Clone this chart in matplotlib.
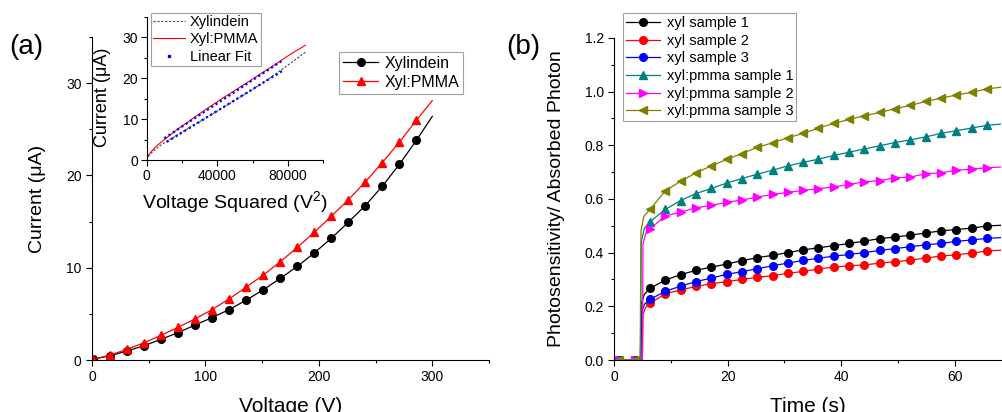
import numpy as np
import matplotlib.pyplot as plt
from matplotlib.ticker import MultipleLocator, FormatStrFormatter

plt.rcParams['font.family'] = ['Liberation Sans', 'DejaVu Sans']
plt.rcParams['mathtext.default'] = 'regular'
plt.rcParams['axes.linewidth'] = 0.8

# ---- panel (a): I-V curves
voltage = [1, 16, 31, 46, 61, 76, 91, 106, 121, 136, 151, 166, 181, 196,
           211, 226, 241, 256, 271, 286, 300]
cur_xyl = [0.07, 0.47, 0.98, 1.56, 2.25, 2.97, 3.8, 4.6, 5.47, 6.49, 7.61,
           8.84, 10.14, 11.6, 13.19, 14.93, 16.74, 18.84, 21.2, 23.8, 26.4]
cur_pmma = [0.07, 0.54, 1.16, 1.88, 2.68, 3.55, 4.46, 5.47, 6.63, 7.9, 9.2,
            10.65, 12.2, 13.84, 15.58, 17.36, 19.3, 21.4, 23.6, 25.98, 28.1]

# inset linear fits, end points (V^2, I)
fit_xyl_x = [11400, 76800]
fit_xyl_y = [4.5, 21.8]
fit_pmma_x = [10000, 77400]
fit_pmma_y = [5.4, 24.5]

# ---- panel (b): photosensitivity vs time
t_mark = [0.9, 3.6, 6.3, 9.0, 11.7, 14.4, 17.1, 19.8, 22.5, 25.2, 27.9, 30.6,
          33.3, 36.0, 38.7, 41.4, 44.1, 46.8, 49.5, 52.2, 54.9, 57.6, 60.3,
          63.0, 65.7]
t_end = 68.2

xyl1 = [0, 0, 0.267, 0.298, 0.318, 0.334, 0.346, 0.357, 0.370, 0.381, 0.390,
        0.400, 0.410, 0.418, 0.426, 0.434, 0.443, 0.452, 0.458, 0.465, 0.473,
        0.481, 0.486, 0.491, 0.499]
xyl2 = [0, 0, 0.211, 0.247, 0.261, 0.274, 0.284, 0.292, 0.300, 0.308, 0.314,
        0.323, 0.330, 0.339, 0.346, 0.351, 0.354, 0.361, 0.366, 0.372, 0.380,
        0.387, 0.392, 0.398, 0.406]
xyl3 = [0, 0, 0.226, 0.256, 0.275, 0.292, 0.305, 0.319, 0.329, 0.340, 0.351,
        0.361, 0.371, 0.379, 0.387, 0.393, 0.400, 0.408, 0.415, 0.422, 0.429,
        0.434, 0.442, 0.447, 0.453]
pmma1 = [0, 0, 0.515, 0.561, 0.594, 0.620, 0.639, 0.659, 0.676, 0.692, 0.707,
         0.723, 0.736, 0.748, 0.762, 0.774, 0.786, 0.798, 0.810, 0.820, 0.831,
         0.844, 0.854, 0.864, 0.874]
pmma2 = [0, 0, 0.489, 0.536, 0.551, 0.567, 0.576, 0.587, 0.596, 0.607, 0.617,
         0.624, 0.632, 0.638, 0.645, 0.654, 0.664, 0.668, 0.679, 0.681, 0.694,
         0.697, 0.707, 0.711, 0.716]
pmma3 = [0, 0, 0.561, 0.630, 0.666, 0.697, 0.723, 0.747, 0.769, 0.792, 0.809,
         0.828, 0.844, 0.864, 0.881, 0.896, 0.910, 0.922, 0.936, 0.948, 0.963,
         0.975, 0.987, 0.997, 1.010]
# light-on step: (time, value) points between the flat part and 1st marker
rise_xyl1 = ([4.6, 4.75, 5.3], [0, 0.21, 0.245])
rise_xyl2 = ([4.95, 5.05, 5.5], [0, 0.17, 0.195])
rise_xyl3 = ([4.7, 4.8, 5.4], [0, 0.18, 0.21])
rise_pmma1 = ([4.6, 4.75, 5.3], [0, 0.44, 0.49])
rise_pmma2 = ([4.95, 5.05, 5.5], [0, 0.43, 0.47])
rise_pmma3 = ([4.55, 4.7, 5.2], [0, 0.48, 0.535])
end_vals = [0.502, 0.409, 0.456, 0.879, 0.719, 1.016]

labels_b = ['xyl sample 1', 'xyl sample 2', 'xyl sample 3',
            'xyl:pmma sample 1', 'xyl:pmma sample 2', 'xyl:pmma sample 3']
colors_b = ['black', '#ff0000', '#0000ff', '#008080', '#ff00ff', '#808000']
markers_b = ['o', 'o', 'o', '^', '>', '<']


def style(ax, fs=10, pad=3.5):
    ax.spines['top'].set_visible(False)
    ax.spines['right'].set_visible(False)
    ax.tick_params(which='major', direction='out', length=4, width=0.8,
                   labelsize=fs, pad=pad, top=False, right=False)
    ax.tick_params(which='minor', direction='out', length=2.5, width=0.8,
                   top=False, right=False)


fig = plt.figure(figsize=(10.02, 4.12), dpi=100)

# ---------------- (a)
ax = fig.add_axes([0.0918, 0.1262, 0.3962, 0.784])
ax.plot(voltage, cur_xyl, color='black', lw=0.9, marker='o', ms=5.5,
        markevery=slice(0, 20), label='Xylindein')
ax.plot(voltage, cur_pmma, color='#ff0000', lw=0.9, marker='^', ms=6,
        markevery=slice(0, 20), label='Xyl:PMMA')
ax.set_xlim(0, 350)
ax.set_ylim(0, 35)
ax.xaxis.set_major_locator(MultipleLocator(100))
ax.xaxis.set_minor_locator(MultipleLocator(50))
ax.yaxis.set_major_locator(MultipleLocator(10))
ax.yaxis.set_minor_locator(MultipleLocator(5))
style(ax)
ax.set_xlabel('Voltage (V)', fontsize=15, labelpad=9)
ax.set_ylabel('Current (μA)', fontsize=14, labelpad=14)
leg = ax.legend(loc='upper left', bbox_to_anchor=(0.3383, 0.8738),
                bbox_transform=fig.transFigure, borderaxespad=0, fontsize=11.5,
                fancybox=False, edgecolor='#888888', handlelength=2.2,
                labelspacing=0.25, borderpad=0.25, handletextpad=0.4)
leg.get_frame().set_linewidth(0.8)
fig.text(0.026, 0.885, '(a)', fontsize=20, ha='center', va='center')

# inset
axi = fig.add_axes([0.1464, 0.6109, 0.176, 0.3478])
v2 = np.array(voltage) ** 2
axi.plot(v2, cur_xyl, color='#444444', lw=0.8, dashes=(2, 1.5), label='Xylindein')
axi.plot(v2, cur_pmma, color='#ff0000', lw=0.8, label='Xyl:PMMA')
axi.plot(fit_xyl_x, fit_xyl_y, color='#0000ff', lw=1.6, dashes=(1, 1.3))
axi.plot(fit_pmma_x, fit_pmma_y, color='#0000ff', lw=1.6, dashes=(1, 1.3))
axi.plot([], [], ls='none', marker='s', ms=2, color='#0000ff', label='Linear Fit')
axi.set_xlim(0, 100000)
axi.set_ylim(0, 35)
axi.xaxis.set_major_locator(MultipleLocator(40000))
axi.xaxis.set_minor_locator(MultipleLocator(20000))
axi.yaxis.set_major_locator(MultipleLocator(10))
axi.yaxis.set_minor_locator(MultipleLocator(5))
style(axi, pad=2)
axi.set_xlabel('Voltage Squared (V$^{2}$)', fontsize=14, labelpad=5)
axi.set_ylabel('Current (μA)', fontsize=13)
axi.yaxis.set_label_coords(-0.2, 0.44)
leg = axi.legend(loc='upper left', bbox_to_anchor=(0.1504, 0.9684),
                 bbox_transform=fig.transFigure, borderaxespad=0, fontsize=10.5,
                 fancybox=False, edgecolor='#888888', handlelength=2.2,
                 labelspacing=0.22, borderpad=0.15, handletextpad=0.35)
leg.get_frame().set_linewidth(0.8)

# ---------------- (b)
axb = fig.add_axes([0.6131, 0.1262, 0.386, 0.782])
series = [xyl1, xyl2, xyl3, pmma1, pmma2, pmma3]
rises = [rise_xyl1, rise_xyl2, rise_xyl3, rise_pmma1, rise_pmma2, rise_pmma3]
for vals, rise, end, lab, col, mk in zip(series, rises, end_vals, labels_b,
                                         colors_b, markers_b):
    t_line = t_mark[:2] + rise[0] + t_mark[2:] + [t_end]
    y_line = vals[:2] + rise[1] + vals[2:] + [end]
    marks = [0, 1] + list(range(5, 5 + len(t_mark) - 2))
    axb.plot(t_line, y_line, color=col, lw=0.9, marker=mk, ms=5.5,
             markevery=marks, label=lab)
axb.set_xlim(0, t_end)
axb.set_ylim(0, 1.2)
axb.xaxis.set_major_locator(MultipleLocator(20))
axb.xaxis.set_minor_locator(MultipleLocator(10))
axb.yaxis.set_major_locator(MultipleLocator(0.2))
axb.yaxis.set_minor_locator(MultipleLocator(0.1))
axb.yaxis.set_major_formatter(FormatStrFormatter('%.1f'))
style(axb)
axb.set_xlabel('Time (s)', fontsize=15, labelpad=9)
axb.set_ylabel('Photosensitivity/ Absorbed Photon', fontsize=14, labelpad=14)
leg = axb.legend(loc='upper left', bbox_to_anchor=(0.6218, 0.968),
                 bbox_transform=fig.transFigure, borderaxespad=0, fontsize=10.5,
                 fancybox=False, edgecolor='#888888', handlelength=2.3,
                 labelspacing=0.25, borderpad=0.2, handletextpad=0.5)
leg.get_frame().set_linewidth(0.8)
fig.text(0.522, 0.885, '(b)', fontsize=20, ha='center', va='center')

fig.savefig('out.png', dpi=100)
